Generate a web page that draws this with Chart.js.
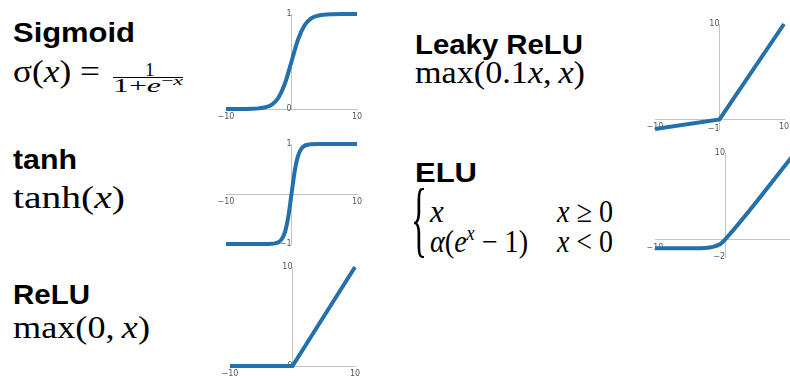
<!DOCTYPE html>
<html>
<head>
<meta charset="utf-8">
<script src="https://cdn.jsdelivr.net/npm/chart.js@4.4.1/dist/chart.umd.min.js"></script>
<style>
  html, body { margin: 0; padding: 0; background: #fff; width: 790px; height: 376px; overflow: hidden; position: relative; }
  .t { position: absolute; white-space: nowrap; line-height: 1; transform-origin: 0 0; color: #000; }
  .h { font-family: "Liberation Sans", Arial, sans-serif; font-weight: bold; font-size: 28px; }
  .m { font-family: "Liberation Serif", "Times New Roman", serif; font-size: 31px; }
  .m i, .s i { font-style: italic; }
  .s { font-family: "Liberation Serif", "Times New Roman", serif; font-size: 19px; }
  .sup { font-size: 13px; position: relative; top: -7px; }
  .bar { position: absolute; background: #000; height: 1px; }
  .plot { position: absolute; }
</style>
</head>
<body>

<div class="t h" style="left:13px;top:19px" data-w="122">Sigmoid</div>
<div class="t m" style="left:13px;top:56px" data-w="87">σ(<i>x</i>) =</div>
<div class="t s" style="left:145px;top:60px">1</div>
<div class="bar" style="left:113px;top:77px;width:70px"></div>
<div class="t s" style="left:113px;top:76px" data-w="70">1+<i>e</i><span class="sup">−<i>x</i></span></div>

<div class="t h" style="left:13px;top:146px" data-w="64">tanh</div>
<div class="t m" style="left:13px;top:182px" data-w="112">tanh(<i>x</i>)</div>

<div class="t h" style="left:13px;top:281px" data-w="77">ReLU</div>
<div class="t m" style="left:13px;top:312px" data-w="137">max(0,&#8201;<i>x</i>)</div>

<div class="t h" style="left:415px;top:31px" data-w="168">Leaky ReLU</div>
<div class="t m" style="left:415px;top:57px" data-w="170">max(0.1<i>x</i>,&#8201;<i>x</i>)</div>

<div class="t h" style="left:415px;top:159px" data-w="62">ELU</div>
<div class="t m" style="left:411px;top:177px;font-size:84px" data-w="16">{</div>
<div class="t m" style="left:430px;top:196px"><i>x</i></div>
<div class="t m" style="left:557px;top:196px" data-w="56"><i>x</i> ≥ 0</div>
<div class="t m" style="left:430px;top:226px" data-w="98"><i>α</i>(<i>e</i><span class="sup" style="font-size:20px;top:-12px"><i>x</i></span> − 1)</div>
<div class="t m" style="left:557px;top:226px" data-w="56"><i>x</i> &lt; 0</div>

<div class="plot" style="left:214px;top:6px"><canvas id="sigmoid" width="155" height="117"></canvas></div>
<div class="plot" style="left:214px;top:136px"><canvas id="tanh" width="155" height="122"></canvas></div>
<div class="plot" style="left:218px;top:259px"><canvas id="relu" width="149" height="121"></canvas></div>
<div class="plot" style="left:643px;top:16px"><canvas id="leaky" width="153" height="127"></canvas></div>
<div class="plot" style="left:643px;top:145px"><canvas id="elu" width="164" height="126"></canvas></div>

<script>
// sampled curves, x from -10 to 10
const xTicks = [-10, 10];

const sigmoidX = [-10, -8, -6, -5, -4, -3, -2, -1, 0, 1, 2, 3, 4, 5, 6, 8, 10];
const sigmoidY = [0.00005, 0.0003, 0.0025, 0.0067, 0.018, 0.047, 0.119, 0.269, 0.5, 0.731, 0.881, 0.953, 0.982, 0.993, 0.9975, 0.9997, 0.99995];
const sigmoidTicks = [0, 1];

const tanhX = [-10, -4, -3, -2.5, -2, -1.5, -1, -0.5, 0, 0.5, 1, 1.5, 2, 2.5, 3, 4, 10];
const tanhY = [-1, -0.999, -0.995, -0.987, -0.964, -0.905, -0.762, -0.462, 0, 0.462, 0.762, 0.905, 0.964, 0.987, 0.995, 0.999, 1];
const tanhTicks = [-1, 1];

const reluX = [-10, 0, 10];
const reluY = [0, 0, 10];
const reluTicks = [0, 10];

const leakyX = [-10, 0, 10];
const leakyY = [-1, 0, 10];
const leakyTicks = [-1, 10];

const eluX = [-10, -5, -4, -3, -2, -1.5, -1, -0.5, 0, 10];
const eluY = [-1, -0.993, -0.982, -0.95, -0.865, -0.777, -0.632, -0.393, 0, 10];
const eluTicks = [-2, 10];

const BLUE = '#2470ad';
const AXIS = '#c4c4c4';
const TICK_FONT = { family: '"DejaVu Sans", sans-serif', size: 8 };

const fmt = (v) => (v < 0 ? '\u2212' + Math.abs(v) : String(v));

function drawCurve(id, xs, ys, yTicks, smooth) {
  new Chart(document.getElementById(id), {
    type: 'line',
    data: {
      datasets: [{
        data: xs.map((x, i) => ({ x, y: ys[i] })),
        borderColor: BLUE,
        borderWidth: 4,
        pointRadius: 0,
        fill: false,
        tension: smooth ? 0.4 : 0,
        cubicInterpolationMode: smooth ? 'monotone' : 'default',
        clip: false
      }]
    },
    options: {
      responsive: false,
      animation: false,
      events: [],
      layout: { padding: { left: 12, right: 12, top: 8, bottom: 14 } },
      plugins: { legend: { display: false }, tooltip: { enabled: false } },
      scales: {
        x: {
          type: 'linear', min: xTicks[0], max: xTicks[1],
          position: { y: 0 },
          grid: { display: false, drawTicks: false },
          border: { display: true, color: AXIS, width: 1 },
          ticks: { color: '#555', font: TICK_FONT, padding: 3, maxRotation: 0, callback: fmt },
          afterBuildTicks: (a) => { a.ticks = xTicks.map((v) => ({ value: v })); }
        },
        y: {
          type: 'linear', min: yTicks[0], max: yTicks[1],
          position: { x: 0 },
          grid: { display: false, drawTicks: false },
          border: { display: true, color: AXIS, width: 1 },
          ticks: { color: '#555', font: TICK_FONT, padding: 2, callback: fmt },
          afterBuildTicks: (a) => { a.ticks = yTicks.map((v) => ({ value: v })); }
        }
      }
    }
  });
}

drawCurve('sigmoid', sigmoidX, sigmoidY, sigmoidTicks, true);
drawCurve('tanh', tanhX, tanhY, tanhTicks, true);
drawCurve('relu', reluX, reluY, reluTicks, false);
drawCurve('leaky', leakyX, leakyY, leakyTicks, false);
drawCurve('elu', eluX, eluY, eluTicks, true);

// stretch text blocks to their set widths
document.querySelectorAll('[data-w]').forEach((el) => {
  const w = el.getBoundingClientRect().width;
  el.style.transform = 'scaleX(' + (el.dataset.w / w) + ')';
});
</script>
</body>
</html>
